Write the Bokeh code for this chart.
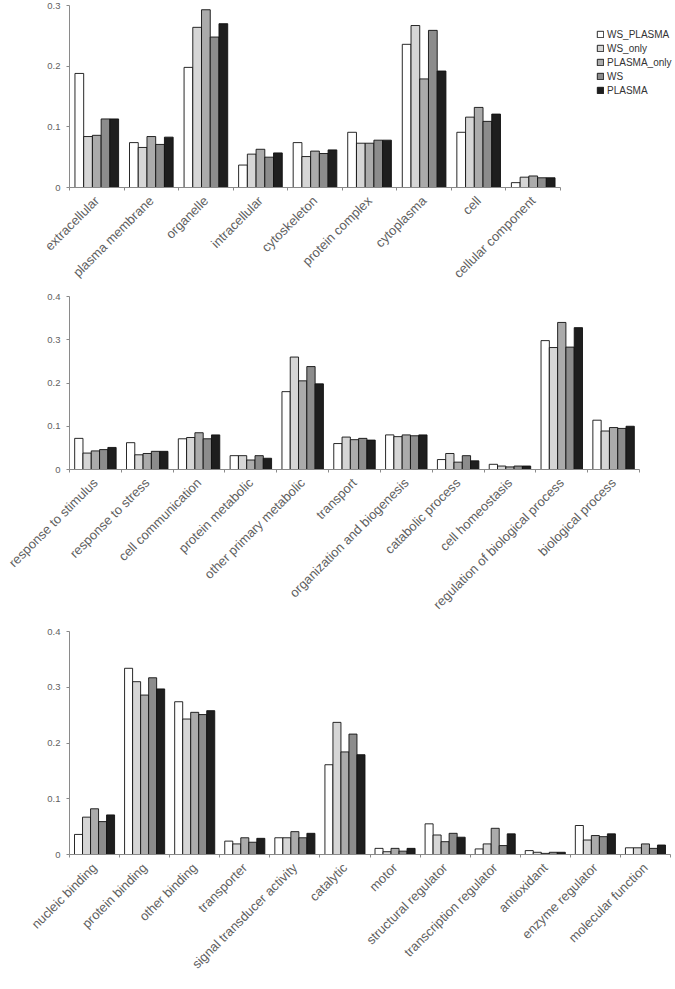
import numpy as np
from bokeh.plotting import figure
from bokeh.models import Range1d, FixedTicker, Legend, LegendItem
from bokeh.layouts import column
from bokeh.embed import file_html
from bokeh.resources import INLINE

series = ["WS_PLASMA", "WS_only", "PLASMA_only", "WS", "PLASMA"]
colors = ["#ffffff", "#d6d6d6", "#ababab", "#8c8c8c", "#1e1e1e"]

# Panel 1: cellular component
cc_categories = ["extracellular", "plasma membrane", "organelle", "intracellular",
                 "cytoskeleton", "protein complex", "cytoplasma", "cell", "cellular component"]
cc_ws_plasma = [0.188, 0.074, 0.198, 0.037, 0.074, 0.091, 0.236, 0.091, 0.008]
cc_ws_only = [0.084, 0.066, 0.264, 0.055, 0.051, 0.073, 0.267, 0.116, 0.017]
cc_plasma_only = [0.086, 0.084, 0.293, 0.063, 0.060, 0.073, 0.179, 0.132, 0.019]
cc_ws = [0.113, 0.071, 0.248, 0.050, 0.056, 0.078, 0.259, 0.109, 0.016]
cc_plasma = [0.113, 0.083, 0.270, 0.057, 0.062, 0.078, 0.192, 0.121, 0.016]
cc_yticks = [0, 0.1, 0.2, 0.3]

# Panel 2: biological process
bp_categories = ["response to stimulus", "response to stress", "cell communication",
                 "protein metabolic", "other primary metabolic", "transport",
                 "organization and biogenesis", "catabolic process", "cell homeostasis",
                 "regulation of biological process", "biological process"]
bp_ws_plasma = [0.072, 0.062, 0.071, 0.032, 0.180, 0.060, 0.080, 0.023, 0.012, 0.298, 0.114]
bp_ws_only = [0.038, 0.034, 0.074, 0.032, 0.260, 0.075, 0.076, 0.037, 0.008, 0.282, 0.089]
bp_plasma_only = [0.043, 0.037, 0.085, 0.022, 0.205, 0.069, 0.080, 0.017, 0.006, 0.340, 0.097]
bp_ws = [0.046, 0.042, 0.071, 0.032, 0.238, 0.072, 0.078, 0.032, 0.008, 0.283, 0.095]
bp_plasma = [0.051, 0.042, 0.080, 0.026, 0.198, 0.068, 0.080, 0.020, 0.008, 0.328, 0.100]
bp_yticks = [0, 0.1, 0.2, 0.3, 0.4]

# Panel 3: molecular function
mf_categories = ["nucleic binding", "protein binding", "other binding", "transporter",
                 "signal transducer activity", "catalytic", "motor", "structural regulator",
                 "transcription regulator", "antioxidant", "enzyme regulator", "molecular function"]
mf_ws_plasma = [0.036, 0.334, 0.274, 0.024, 0.030, 0.161, 0.011, 0.055, 0.010, 0.007, 0.052, 0.012]
mf_ws_only = [0.067, 0.310, 0.243, 0.019, 0.030, 0.237, 0.005, 0.035, 0.019, 0.004, 0.026, 0.012]
mf_plasma_only = [0.082, 0.286, 0.255, 0.030, 0.041, 0.184, 0.011, 0.023, 0.047, 0.002, 0.034, 0.019]
mf_ws = [0.059, 0.317, 0.251, 0.022, 0.030, 0.216, 0.006, 0.038, 0.016, 0.004, 0.032, 0.011]
mf_plasma = [0.071, 0.297, 0.258, 0.029, 0.038, 0.179, 0.011, 0.031, 0.037, 0.004, 0.037, 0.017]
mf_yticks = [0, 0.1, 0.2, 0.3, 0.4]

FONT = "Liberation Sans"
AXIS_COLOR = "#8a8a8a"
LABEL_COLOR = "#5f5f5f"
BAR_W = 0.16


def make_panel(cats, vals_list, yticks, frame_w, frame_h, b_left, b_top, b_right, legend=False):
    n = len(cats)
    p = figure(frame_width=frame_w, frame_height=frame_h,
               x_range=Range1d(0, n), y_range=Range1d(0, yticks[-1]),
               output_backend="svg", toolbar_location=None,
               min_border_left=b_left, min_border_top=b_top,
               min_border_right=b_right, min_border_bottom=0)
    p.outline_line_color = None
    p.xgrid.grid_line_color = None
    p.ygrid.grid_line_color = None
    p.background_fill_color = None
    p.border_fill_color = None

    renderers = []
    centers = np.arange(n) + 0.5
    for k, vals in enumerate(vals_list):
        r = p.vbar(x=centers + (k - 2) * BAR_W, top=vals, bottom=0, width=BAR_W,
                   fill_color=colors[k], line_color="#111111", line_width=0.9)
        renderers.append(r)

    xa = p.xaxis[0]
    xa.ticker = FixedTicker(ticks=list(centers), minor_ticks=list(range(n + 1)))
    xa.major_label_overrides = {float(c): name for c, name in zip(centers, cats)}
    xa.major_tick_line_color = None
    xa.major_tick_out = 0
    xa.major_tick_in = 0
    xa.minor_tick_out = 3
    xa.minor_tick_in = 0
    xa.minor_tick_line_color = AXIS_COLOR
    xa.axis_line_color = AXIS_COLOR
    xa.major_label_orientation = np.pi / 4
    xa.major_label_standoff = 8
    xa.major_label_text_font = FONT
    xa.major_label_text_font_size = "13px"
    xa.major_label_text_color = LABEL_COLOR

    ya = p.yaxis[0]
    ya.ticker = FixedTicker(ticks=yticks)
    ya.major_label_overrides = {0: "0"}
    ya.minor_tick_line_color = None
    ya.major_tick_out = 3
    ya.major_tick_in = 0
    ya.major_tick_line_color = AXIS_COLOR
    ya.axis_line_color = AXIS_COLOR
    ya.major_label_text_font = FONT
    ya.major_label_text_font_size = "9.5px"
    ya.major_label_text_color = LABEL_COLOR
    ya.major_label_standoff = 6

    if legend:
        items = [LegendItem(label=s, renderers=[r]) for s, r in zip(series, renderers)]
        lg = Legend(items=items, location=(36, 90))
        lg.background_fill_alpha = 0
        lg.border_line_color = None
        lg.label_text_font = FONT
        lg.label_text_font_size = "10px"
        lg.label_text_color = "#333333"
        lg.glyph_width = 8
        lg.glyph_height = 8
        lg.label_height = 14
        lg.label_standoff = 3
        lg.spacing = 0
        lg.padding = 0
        lg.margin = 0
        p.add_layout(lg, "right")
    return p


p1 = make_panel(cc_categories, [cc_ws_plasma, cc_ws_only, cc_plasma_only, cc_ws, cc_plasma],
                cc_yticks, 491, 182, 69, 5, 115, legend=True)
p2 = make_panel(bp_categories, [bp_ws_plasma, bp_ws_only, bp_plasma_only, bp_ws, bp_plasma],
                bp_yticks, 570, 173, 67, 7, 30)
p3 = make_panel(mf_categories, [mf_ws_plasma, mf_ws_only, mf_plasma_only, mf_ws, mf_plasma],
                mf_yticks, 601, 223, 62, 11, 8)

layout = column(p1, p2, p3, spacing=0)
open("out.html", "w").write(file_html(layout, INLINE))
